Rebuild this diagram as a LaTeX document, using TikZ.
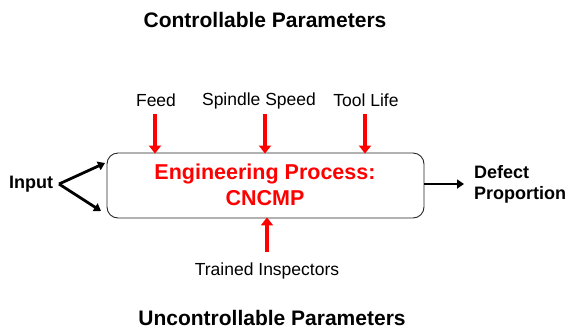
\documentclass[tikz,border=0pt]{standalone}
\usepackage{fontspec}
\setmainfont{Liberation Sans}
\usetikzlibrary{arrows.meta}
\begin{document}
\begin{tikzpicture}[x=1pt,y=-1pt,
  lbl/.style={font=\fontsize{17.5}{20}\selectfont, inner sep=0pt},
  ttl/.style={font=\bfseries\fontsize{21}{24}\selectfont, inner sep=0pt},
  redarr/.style={draw=red, line width=3.5pt, -{Triangle[length=8pt,width=12pt]}, shorten >=-1pt},
  blkarr/.style={draw=black, line width=2.8pt, -{Triangle[length=7pt,width=9pt]}},
  proc/.style={draw=black!85, line width=0.9pt, rounded corners=11pt, minimum width=317pt, minimum height=65pt, inner sep=0pt}
]
\useasboundingbox (0,0) rectangle (567,330);
\node[ttl] (t1) at (265,20) {Controllable Parameters};
\node[ttl] (t2) at (272,318) {Uncontrollable Parameters};
\node[proc] (box) at (265.5,185.5) {};
\node[font=\bfseries\fontsize{21.5}{26}\selectfont, text=red, align=center, inner sep=0pt] (ptxt) at (265,185) {Engineering Process:\\CNCMP};
\node[lbl] (feed) at (156,100) {Feed};
\node[lbl] (spin) at (259,101) {Spindle Speed};
\node[lbl] (tool) at (366,100) {Tool Life};
\node[lbl] (train) at (267,271) {Trained Inspectors};
\coordinate (fa) at (155,114);
\coordinate (sa) at (265,114);
\coordinate (ta) at (365,114);
\draw[redarr] (fa) -- (fa |- box.north);
\draw[redarr] (sa) -- (sa |- box.north);
\draw[redarr] (ta) -- (ta |- box.north);
\coordinate (ib) at (267,252);
\draw[redarr] (ib) -- (ib |- box.south);
\node[font=\bfseries\fontsize{18}{20}\selectfont, inner sep=0pt, anchor=west] (inp) at (9,184) {Input};
\coordinate (fork) at (59,184);
\coordinate (up) at (105,163);
\coordinate (dn) at (101,211);
\draw[blkarr] (fork) -- (up);
\draw[blkarr] (fork) -- (dn);
\node[font=\bfseries\fontsize{18}{21}\selectfont, inner sep=0pt, anchor=west, align=left] (out) at (474,184) {Defect\\Proportion};
\coordinate (oe) at (464,184);
\draw[blkarr, line width=2.2pt] (box.east |- oe) -- (oe);
\end{tikzpicture}
\end{document}
